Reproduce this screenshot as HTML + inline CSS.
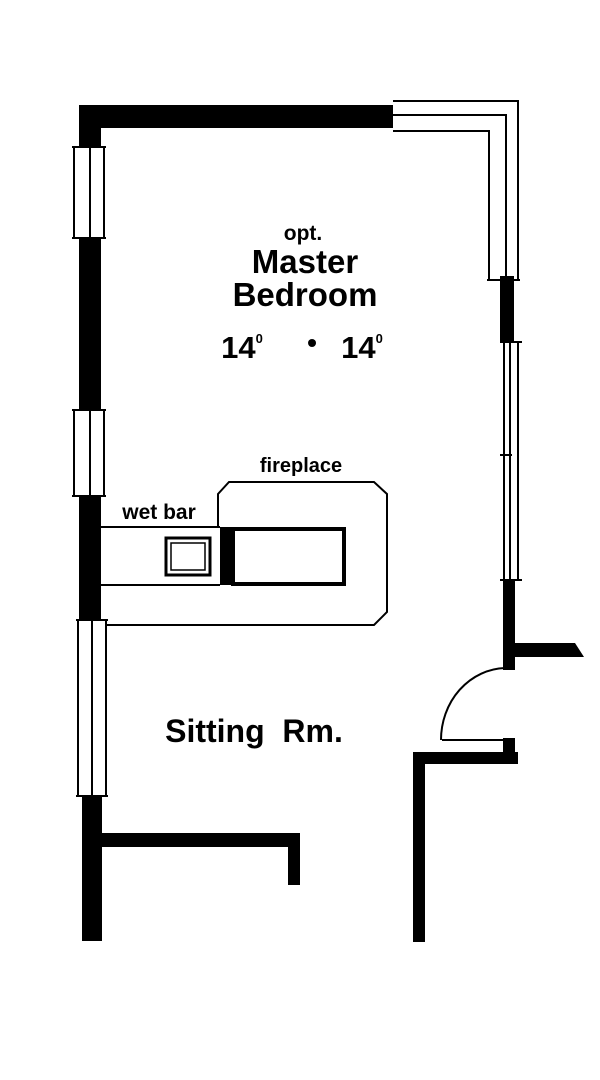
<!DOCTYPE html>
<html><head><style>html,body{margin:0;padding:0;background:#fff}svg{display:block}</style></head>
<body>
<svg width="600" height="1080" viewBox="0 0 600 1080" xmlns="http://www.w3.org/2000/svg">
<g fill="#000">
<rect x="79" y="105" width="314" height="23"/>
<rect x="79" y="105" width="22" height="42"/>
<rect x="79" y="238" width="22" height="172"/>
<rect x="79" y="496" width="22" height="124"/>
<rect x="82" y="796" width="20" height="145"/>
<rect x="101" y="833" width="199" height="14"/>
<rect x="288" y="833" width="12" height="52"/>
<rect x="500" y="276" width="14" height="66"/>
<rect x="503" y="580" width="12" height="90"/>
<polygon points="515,643 575,643 584,657 515,657"/>
<rect x="413" y="752" width="105" height="12"/>
<rect x="413" y="752" width="12" height="190"/>
<rect x="503" y="738" width="12" height="26"/>
<rect x="220" y="527" width="12" height="58"/>
</g>
<g fill="none" stroke="#000">
<g stroke-width="2">
<line x1="74" y1="147" x2="74" y2="238"/><line x1="90" y1="147" x2="90" y2="238"/><line x1="104" y1="147" x2="104" y2="238"/>
<line x1="74" y1="410" x2="74" y2="496"/><line x1="90" y1="410" x2="90" y2="496"/><line x1="104" y1="410" x2="104" y2="496"/>
<line x1="78" y1="620" x2="78" y2="796"/><line x1="92" y1="620" x2="92" y2="796"/><line x1="106" y1="620" x2="106" y2="796"/>
<line x1="72" y1="147" x2="106" y2="147"/><line x1="72" y1="238" x2="106" y2="238"/>
<line x1="72" y1="410" x2="106" y2="410"/><line x1="72" y1="496" x2="106" y2="496"/>
<line x1="76" y1="620" x2="108" y2="620"/><line x1="76" y1="796" x2="108" y2="796"/>
<polyline points="393,101 518,101 518,280"/>
<polyline points="393,115 506,115 506,280"/>
<polyline points="393,131 489,131 489,280"/>
<line x1="487" y1="280" x2="520" y2="280"/>
<line x1="504" y1="342" x2="504" y2="580"/><line x1="510" y1="342" x2="510" y2="580"/><line x1="518" y1="342" x2="518" y2="580"/>
<line x1="500" y1="342" x2="522" y2="342"/><line x1="500" y1="455" x2="512" y2="455"/><line x1="500" y1="580" x2="522" y2="580"/>
<path d="M505,668 A66,72 0 0 0 441,740"/>
<line x1="442" y1="740" x2="505" y2="740"/>
<line x1="101" y1="527" x2="220" y2="527"/>
<line x1="101" y1="585" x2="220" y2="585"/>
<polyline points="218,527 218,494 229,482 374,482 387,494 387,612 374,625 106,625"/>
</g>
<rect x="166" y="538" width="44" height="37" stroke-width="3"/>
<rect x="171" y="543" width="34" height="27" stroke-width="1.5"/>
<rect x="233" y="529" width="111" height="55" stroke-width="4"/>
</g>
<g font-family="Liberation Sans, sans-serif" font-weight="bold" text-anchor="middle" fill="#000">
<text x="303" y="240" font-size="21">opt.</text>
<text x="305" y="273" font-size="33">Master</text>
<text x="305" y="306" font-size="33">Bedroom</text>
<text x="242" y="358" font-size="31">14<tspan font-size="13" dy="-15">0</tspan></text>
<text x="312" y="352" font-size="28">•</text>
<text x="362" y="358" font-size="31">14<tspan font-size="13" dy="-15">0</tspan></text>
<text x="301" y="472" font-size="20">fireplace</text>
<text x="159" y="519" font-size="21">wet bar</text>
<text x="254" y="742" font-size="32" xml:space="preserve">Sitting  Rm.</text>
</g>
</svg>
</body></html>
